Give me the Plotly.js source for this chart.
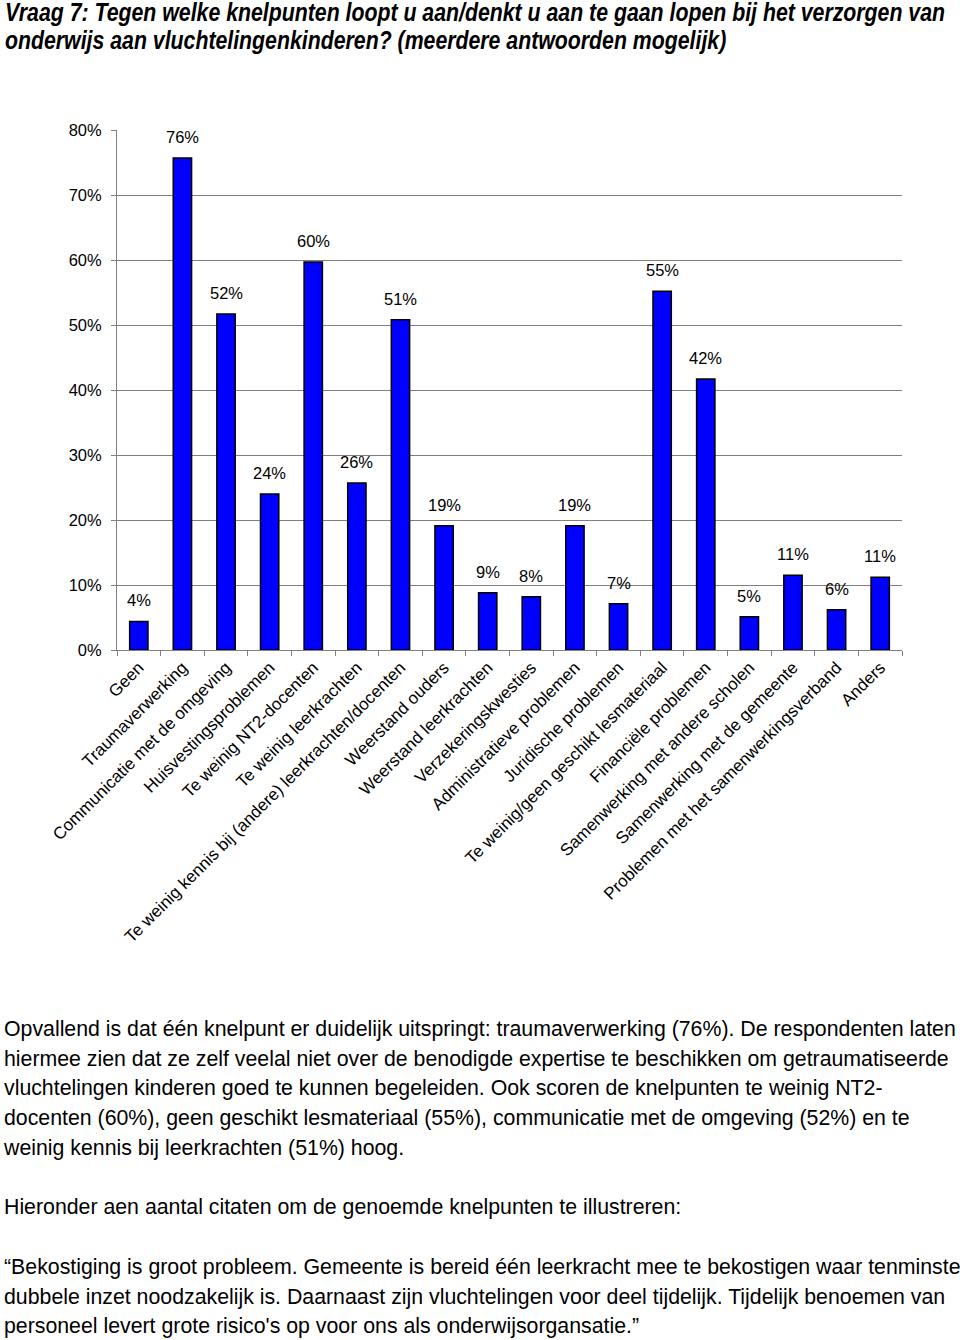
<!DOCTYPE html>
<html>
<head>
<meta charset="utf-8">
<script src="https://cdn.plot.ly/plotly-3.0.1.min.js"></script>
<style>
  body { margin: 0; width: 960px; height: 1340px; background: #fff; position: relative; font-family: "Liberation Sans", Arial, sans-serif; }
  #titel { position: absolute; left: 5px; top: -2px; font-family: "Liberation Sans", Arial, sans-serif; font-weight: bold; font-style: italic; font-size: 25px; line-height: 28px; white-space: nowrap; }
  #titel span { display: inline-block; transform-origin: left center; }
  #grafiek { position: absolute; left: 0; top: 0; width: 960px; height: 1000px; }
  .tekst { position: absolute; left: 4px; font-size: 21.3px; line-height: 29.7px; white-space: nowrap; color: #000; }
</style>
</head>
<body>
<div id="grafiek"></div>
<div id="titel"><span id="r1">Vraag 7: Tegen welke knelpunten loopt u aan/denkt u aan te gaan lopen bij het verzorgen van</span><br><span id="r2">onderwijs aan vluchtelingenkinderen? (meerdere antwoorden mogelijk)</span></div>
<div class="tekst" style="top:1015px">Opvallend is dat één knelpunt er duidelijk uitspringt: traumaverwerking (76%). De respondenten laten<br>hiermee zien dat ze zelf veelal niet over de benodigde expertise te beschikken om getraumatiseerde<br>vluchtelingen kinderen goed te kunnen begeleiden. Ook scoren de knelpunten te weinig NT2-<br>docenten (60%), geen geschikt lesmateriaal (55%), communicatie met de omgeving (52%) en te<br>weinig kennis bij leerkrachten (51%) hoog.</div>
<div class="tekst" style="top:1193px">Hieronder aen aantal citaten om de genoemde knelpunten te illustreren:</div>
<div class="tekst" style="top:1253px">“Bekostiging is groot probleem. Gemeente is bereid één leerkracht mee te bekostigen waar tenminste<br>dubbele inzet noodzakelijk is. Daarnaast zijn vluchtelingen voor deel tijdelijk. Tijdelijk benoemen van<br>personeel levert grote risico's op voor ons als onderwijsorgansatie.”</div>
<script>
let knelpunten = [
    'Geen',
    'Traumaverwerking',
    'Communicatie met de omgeving',
    'Huisvestingsproblemen',
    'Te weinig NT2-docenten',
    'Te weinig leerkrachten',
    'Te weinig kennis bij (andere) leerkrachten/docenten',
    'Weerstand ouders',
    'Weerstand leerkrachten',
    'Verzekeringskwesties',
    'Administratieve problemen',
    'Juridische problemen',
    'Te weinig/geen geschikt lesmateriaal',
    'Financiële problemen',
    'Samenwerking met andere scholen',
    'Samenwerking met de gemeente',
    'Problemen met het samenwerkingsverband',
    'Anders'
];
let percentages = [4.4, 75.7, 51.7, 24, 59.7, 25.7, 50.8, 19.1, 8.8, 8.2, 19.1, 7.1, 55.2, 41.7, 5.1, 11.5, 6.2, 11.2];
let labels = ['4%', '76%', '52%', '24%', '60%', '26%', '51%', '19%', '9%', '8%', '19%', '7%', '55%', '42%', '5%', '11%', '6%', '11%'];

// titel is in het origineel een smal lettertype: horizontaal samendrukken
const schaal = 940 / document.getElementById('r1').getBoundingClientRect().width;
document.getElementById('r1').style.transform = 'scaleX(' + schaal + ')';
document.getElementById('r2').style.transform = 'scaleX(' + schaal + ')';

const trace = {
    x: knelpunten,
    y: percentages,
    type: 'bar',
    marker: {
        color: '#0000ff',
        line: { width: 1.5, color: 'black' }
    },
    hoverinfo: 'none'
};

const annotaties = knelpunten.map((k, i) => ({
    x: k,
    y: percentages[i],
    text: labels[i],
    showarrow: false,
    yanchor: 'bottom',
    yshift: 10,
    font: { family: 'Liberation Sans, Arial, sans-serif', size: 16.5, color: '#000' }
}));

const layout = {
    width: 960,
    height: 1000,
    margin: { l: 117, r: 58, t: 130, b: 350 },
    paper_bgcolor: 'rgba(0,0,0,0)',
    plot_bgcolor: 'rgba(0,0,0,0)',
    showlegend: false,
    bargap: 0.58,
    font: { family: 'Liberation Sans, Arial, sans-serif', color: '#000' },
    xaxis: {
        type: 'category',
        tickangle: -45,
        tickfont: { size: 17 },
        ticks: 'outside',
        tickson: 'boundaries',
        ticklen: 5,
        tickcolor: '#808080',
        showline: true,
        linecolor: '#808080',
        linewidth: 1,
        showgrid: false
    },
    yaxis: {
        range: [0, 80],
        dtick: 10,
        ticksuffix: '%',
        tickfont: { size: 16.5 },
        ticks: 'outside',
        ticklen: 5,
        tickcolor: '#808080',
        ticklabelstandoff: 6,
        showline: true,
        linecolor: '#808080',
        gridcolor: '#808080',
        gridwidth: 1,
        zeroline: false
    },
    annotations: annotaties
};

Plotly.newPlot('grafiek', [trace], layout, { displayModeBar: false, staticPlot: true });
</script>
</body>
</html>
